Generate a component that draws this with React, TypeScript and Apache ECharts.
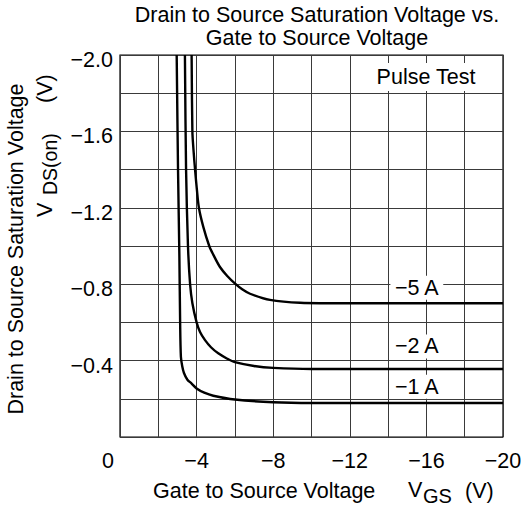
import React, { useEffect, useRef } from 'react';
import * as echarts from 'echarts';

const titleLines = ['Drain to Source Saturation Voltage vs.', 'Gate to Source Voltage'];
const xTickValues = [0, -4, -8, -12, -16, -20];
const yTickValues = [-0.4, -0.8, -1.2, -1.6, -2.0];

const curveNames = ['\u22121 A', '\u22122 A', '\u22125 A'];

const vgs1A = [-2.96, -3.03, -3.10, -3.14, -3.18, -3.25, -3.34, -3.52, -3.74, -4.0, -4.4, -4.87, -6, -8, -10, -20];
const vds1A = [-2.0, -1.4, -0.95, -0.6, -0.42, -0.37, -0.335, -0.3, -0.28, -0.254, -0.232, -0.216, -0.196, -0.182, -0.178, -0.178];

const vgs2A = [-3.39, -3.45, -3.55, -3.66, -3.78, -4.0, -4.18, -4.44, -4.75, -5.13, -5.6, -6.0, -7.0, -8, -10, -20];
const vds2A = [-2.0, -1.4, -1.0, -0.8, -0.7, -0.6, -0.55, -0.507, -0.47, -0.438, -0.41, -0.392, -0.372, -0.362, -0.356, -0.356];

const vgs5A = [-3.74, -3.78, -3.84, -3.92, -4.01, -4.12, -4.35, -4.66, -4.87, -5.22, -5.6, -6.04, -6.4, -6.79, -7.83, -9.4, -12, -20];
const vds5A = [-2.0, -1.6, -1.5, -1.4, -1.3, -1.2, -1.10, -1.0, -0.955, -0.89, -0.843, -0.8, -0.772, -0.75, -0.718, -0.703, -0.70, -0.70];

const labelVgs = -15.5;
const labelVds = [-0.263, -0.474, -0.781];

const FONT = '"Liberation Sans", Arial, Helvetica, sans-serif';
const FS = 21.5;

const curves = [
  { name: curveNames[0], x: vgs1A, y: vds1A, ly: labelVds[0] },
  { name: curveNames[1], x: vgs2A, y: vds2A, ly: labelVds[1] },
  { name: curveNames[2], x: vgs5A, y: vds5A, ly: labelVds[2] },
];

export default function App() {
  const ref = useRef<HTMLDivElement>(null);
  useEffect(() => {
    if (!ref.current) return;
    const chart = echarts.init(ref.current, undefined, { renderer: 'svg' });
    const txt = (text: string, x: number, y: number, extra: any = {}) => ({
      type: 'text',
      x,
      y,
      z: 100,
      style: {
        text,
        fontSize: FS,
        fontFamily: FONT,
        fill: '#000',
        align: 'left',
        verticalAlign: 'middle',
        ...extra,
      },
    });
    const option: any = {
      animation: false,
      backgroundColor: '#fff',
      grid: {
        left: 120,
        top: 55,
        width: 383,
        height: 382,
        show: true,
        borderColor: '#000',
        borderWidth: 1.2,
        backgroundColor: 'transparent',
      },
      xAxis: {
        type: 'value',
        min: -20,
        max: 0,
        interval: 2,
        inverse: true,
        axisLine: { show: false },
        axisTick: { show: false },
        splitLine: { show: true, lineStyle: { color: '#3a3a3a', width: 1 } },
        axisLabel: {
          margin: 13,
          fontSize: FS,
          fontFamily: FONT,
          color: '#000',
          formatter: (v: number) => {
            const r = Math.round(v);
            if (!xTickValues.includes(r) || Math.abs(v - r) > 1e-6) return '';
            if (r === 0) return '{z|0}';
            return '\u2212' + Math.abs(r);
          },
          rich: { z: { fontSize: FS, fontFamily: FONT, color: '#000', padding: [0, 24, 0, 0] } },
        },
      },
      yAxis: {
        type: 'value',
        min: -2,
        max: 0,
        interval: 0.2,
        inverse: true,
        axisLine: { show: false },
        axisTick: { show: false },
        splitLine: { show: true, lineStyle: { color: '#3a3a3a', width: 1 } },
        axisLabel: {
          margin: 7,
          fontSize: FS,
          fontFamily: FONT,
          color: '#000',
          formatter: (v: number) => {
            const t = Math.round(v * 10) / 10;
            if (!yTickValues.some((y) => Math.abs(y - t) < 1e-6)) return '';
            return '{a|\u2212' + Math.abs(t).toFixed(1) + '}';
          },
          rich: { a: { fontSize: FS, fontFamily: FONT, color: '#000', padding: [10, 0, 0, 0] } },
        },
      },
      series: curves.map((c) => ({
        type: 'line',
        name: c.name,
        showSymbol: false,
        smooth: 0.3,
        lineStyle: { color: '#000', width: 2.4 },
        data: c.x.map((x, i) => [x, c.y[i]]),
        markPoint: {
          symbol: 'circle',
          symbolSize: 1,
          itemStyle: { color: 'rgba(0,0,0,0)' },
          label: {
            show: true,
            position: 'inside',
            formatter: c.name,
            backgroundColor: '#fff',
            padding: [1, 4, 1, 4],
            color: '#000',
            fontSize: FS,
            fontFamily: FONT,
          },
          data: [{ coord: [labelVgs, c.ly] }],
        },
      })),
      graphic: [
        txt(titleLines[0], 317, 15, { align: 'center' }),
        txt(titleLines[1], 317, 38, { align: 'center' }),
        txt('Gate to Source Voltage', 153, 491),
        txt('V', 408, 490),
        txt('GS', 423, 496, { fontSize: 20 }),
        txt('(V)', 465, 491),
        {
          ...txt('Drain to Source Saturation Voltage', 16, 249, { align: 'center' }),
          rotation: Math.PI / 2,
        },
        { ...txt('V', 45, 217), rotation: Math.PI / 2 },
        { ...txt('DS(on)', 50, 195, { fontSize: 19.5 }), rotation: Math.PI / 2 },
        { ...txt('(V)', 45, 103), rotation: Math.PI / 2 },
        txt('Pulse Test', 426, 77, {
          align: 'center',
          backgroundColor: '#fff',
          padding: [3, 5, 3, 5],
        }),
      ],
    };
    chart.setOption(option);
    return () => chart.dispose();
  }, []);
  return (
    <div
      ref={ref}
      style={{ position: 'fixed', left: 0, top: 0, width: 526, height: 509, background: '#fff' }}
    />
  );
}
